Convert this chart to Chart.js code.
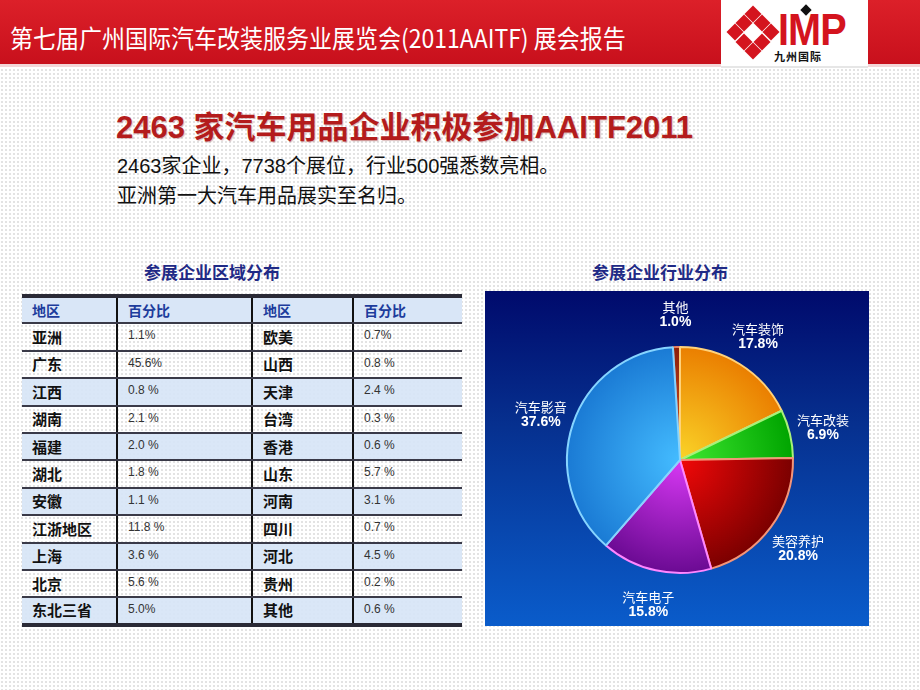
<!DOCTYPE html>
<html>
<head>
<meta charset="utf-8">
<script src="https://cdn.jsdelivr.net/npm/chart.js@4.4.1/dist/chart.umd.min.js"></script>
<style>
  html, body { margin: 0; padding: 0; }
  body {
    width: 920px; height: 690px; position: relative; overflow: hidden;
    background-color: #fff;
    background-image: radial-gradient(#e2e2e2 0.7px, transparent 0.9px);
    background-size: 4px 4px;
    font-family: "Noto Sans CJK SC", "Noto Sans", sans-serif;
  }
  #header {
    position: absolute; left: 0; top: 0; width: 920px; height: 64px;
    background: linear-gradient(#dc2029, #c8101c);
    border-bottom: 3px solid #f3d6d8;
  }
  #header .title {
    position: absolute; left: 10px; top: 20px; color: #fff;
    font-size: 25px; line-height: 34px; white-space: nowrap;
    transform-origin: 0 0; transform: scaleX(0.92);
  }
  #logo {
    position: absolute; left: 721px; top: 0; width: 147px; height: 66px; background: #fff;
    border-bottom: 2px solid #e6e6e6;
  }
  #diamond { position: absolute; left: 10px; top: 10px; width: 44px; height: 44px; }
  #diamond div {
    position: absolute; width: 12px; height: 12px; background: #d4141e;
  }
  #logo .imp {
    position: absolute; left: 57px; top: 5px; font: bold 44px "Liberation Sans", Arial, sans-serif;
    color: #d4141e; letter-spacing: -1px; transform-origin: 0 0; transform: scaleX(0.9);
  }
  #logo .dot {
    position: absolute; left: 81px; top: 6px; width: 8px; height: 8px; background: #111; transform: rotate(45deg);
  }
  #logo .cn {
    position: absolute; left: 53px; top: 48px; font-size: 11px; font-weight: bold; color: #111; letter-spacing: 1px;
  }
  #headline {
    position: absolute; left: 116px; top: 102px; font-size: 31px; font-weight: bold; color: #b41c1c;
    font-family: "Liberation Sans", "Noto Sans CJK SC", sans-serif; white-space: nowrap;
    text-shadow: 1px 1px 1px rgba(120,0,0,0.25);
  }
  .sub { position: absolute; left: 117px; font-size: 20px; color: #111; white-space: nowrap;
    font-family: "Liberation Sans", "Noto Sans CJK SC", sans-serif; }
  .caption { position: absolute; top: 259px; font-size: 17px; font-weight: bold; color: #1f2a86; white-space: nowrap; }
  #regionTable {
    position: absolute; left: 22px; top: 294px; width: 440px; border-collapse: collapse; table-layout: fixed;
    border-top: 4px solid #2a2a36; border-bottom: 4px solid #2a2a36;
  }
  #regionTable tr { height: 27.4px; }
  #regionTable td {
    padding: 0 0 0 10px; border-bottom: 2px solid #3a3a48; vertical-align: middle;
    line-height: 16px; overflow: hidden; white-space: nowrap;
  }
  #regionTable td + td { border-left: 2px solid #111; }
  #regionTable tr:last-child td { border-bottom: none; }
  #regionTable tr.hd td { color: #1d3c9c; font-weight: bold; font-size: 14px; background: #d9e6f7; }
  #regionTable tr.alt td { background: rgba(214, 228, 246, 0.9); }
  #regionTable td.name { font-size: 15px; font-weight: bold; color: #111; }
  #regionTable td.pct { font: 12px/14px "Liberation Sans", Arial, sans-serif; color: #333; vertical-align: top; padding-top: 4px; }
  #panel {
    position: absolute; left: 485px; top: 291px; width: 384px; height: 335px;
    background: linear-gradient(#000a6c 0%, #06308f 40%, #0a5ccb 100%);
  }
  #pie { position: absolute; left: 0; top: 0; }
</style>
</head>
<body>
<div id="header">
  <div class="title">第七届广州国际汽车改装服务业展览会(2011AAITF) 展会报告</div>
  <div id="logo">
    <div id="diamond"></div>
    <div class="imp">IMP</div>
    <div class="dot"></div>
    <div class="cn">九州国际</div>
  </div>
</div>

<div id="headline">2463 家汽车用品企业积极参加AAITF2011</div>
<div class="sub" style="top:150px">2463家企业，7738个展位，行业500强悉数亮相。</div>
<div class="sub" style="top:180px">亚洲第一大汽车用品展实至名归。</div>

<div class="caption" style="left:144px">参展企业区域分布</div>
<div class="caption" style="left:592px">参展企业行业分布</div>

<table id="regionTable">
  <colgroup><col style="width:95px"><col style="width:135px"><col style="width:101px"><col style="width:109px"></colgroup>
  <tbody id="tbody"></tbody>
</table>

<div id="panel"><canvas id="pie" width="384" height="335"></canvas></div>

<script>
// region table
const tableHeaders = ["地区", "百分比", "地区", "百分比"];
const leftRegions = ["亚洲", "广东", "江西", "湖南", "福建", "湖北", "安徽", "江浙地区", "上海", "北京", "东北三省"];
const leftShares = ["1.1%", "45.6%", "0.8 %", "2.1 %", "2.0 %", "1.8 %", "1.1 %", "11.8 %", "3.6 %", "5.6 %", "5.0%"];
const rightRegions = ["欧美", "山西", "天津", "台湾", "香港", "山东", "河南", "四川", "河北", "贵州", "其他"];
const rightShares = ["0.7%", "0.8 %", "2.4 %", "0.3 %", "0.6 %", "5.7 %", "3.1 %", "0.7 %", "4.5 %", "0.2 %", "0.6 %"];
const shadedRows = [2, 4, 6, 8, 10];

// industry pie
const industries = ["其他", "汽车装饰", "汽车改装", "美容养护", "汽车电子", "汽车影音"];
const industryShares = [1.0, 17.8, 6.9, 20.8, 15.8, 37.6];

const innerColors = ["#d85a2a", "#fad428", "#3ee830", "#f20808", "#d838f4", "#44bcff"];
const outerColors = ["#8c1e08", "#ea7e00", "#00a400", "#7a0000", "#6a0a92", "#1a7ad4"];
const edgeColors = ["#e88060", "#ffd27a", "#a8f07a", "#f49478", "#ff86ff", "#86d4ff"];

// build the table
const tbody = document.getElementById("tbody");
let hd = document.createElement("tr");
hd.className = "hd";
tableHeaders.forEach((h) => {
  const td = document.createElement("td");
  td.textContent = h;
  hd.appendChild(td);
});
tbody.appendChild(hd);
leftRegions.forEach((r, i) => {
  const tr = document.createElement("tr");
  if (shadedRows.includes(i)) tr.className = "alt";
  [[r, "name"], [leftShares[i], "pct"], [rightRegions[i], "name"], [rightShares[i], "pct"]].forEach(([txt, cls]) => {
    const td = document.createElement("td");
    td.className = cls;
    td.textContent = txt;
    tr.appendChild(td);
  });
  tbody.appendChild(tr);
});

// logo diamond (3x3 grid, hollow middle)
const dia = document.getElementById("diamond");
for (let r = 0; r < 3; r++) {
  for (let c = 0; c < 3; c++) {
    if (r === 1 && c === 1) continue;
    const s = document.createElement("div");
    const ox = (c - r) * 9.2, oy = (c + r) * 9.2;
    s.style.left = (16 + ox) + "px";
    s.style.top = (-2 + oy) + "px";
    s.style.transform = "rotate(45deg)";
    dia.appendChild(s);
  }
}

const sliceLabels = {
  id: "sliceLabels",
  afterDatasetsDraw(chart) {
    const ctx = chart.ctx;
    const meta = chart.getDatasetMeta(0);
    ctx.save();
    ctx.fillStyle = "#ffffff";
    ctx.textAlign = "center";
    ctx.textBaseline = "middle";
    meta.data.forEach((arc, i) => {
      const { x, y, startAngle, endAngle, outerRadius } = arc.getProps(
        ["x", "y", "startAngle", "endAngle", "outerRadius"], true);
      const mid = (startAngle + endAngle) / 2;
      const d = outerRadius * 1.3;
      const lx = x + Math.cos(mid) * d;
      const ly = y + Math.sin(mid) * d;
      ctx.font = '13px "Noto Sans CJK SC", sans-serif';
      ctx.fillText(industries[i], lx, ly - 6);
      ctx.font = 'bold 14px "Liberation Sans", Arial, sans-serif';
      ctx.fillText(industryShares[i].toFixed(1) + "%", lx, ly + 9);
    });
    ctx.restore();
  },
};

function sliceFill(c) {
  const i = c.dataIndex;
  const area = c.chart.chartArea;
  if (!area) return outerColors[i];
  const cx = (area.left + area.right) / 2;
  const cy = (area.top + area.bottom) / 2;
  const r = Math.min(area.width, area.height) / 2;
  const g = c.chart.ctx.createRadialGradient(cx, cy, 0, cx, cy, r);
  g.addColorStop(0, innerColors[i]);
  g.addColorStop(1, outerColors[i]);
  return g;
}

new Chart(document.getElementById("pie").getContext("2d"), {
  type: "pie",
  data: {
    labels: industries,
    datasets: [
      {
        data: industryShares,
        backgroundColor: sliceFill,
        borderColor: edgeColors,
        borderWidth: 2,
      },
    ],
  },
  options: {
    responsive: false,
    animation: false,
    rotation: -3.6,
    layout: { padding: { left: 60, right: 54, top: 55, bottom: 52 } },
    plugins: {
      legend: { display: false },
      tooltip: { enabled: false },
    },
  },
  plugins: [sliceLabels],
});
</script>
</body>
</html>
